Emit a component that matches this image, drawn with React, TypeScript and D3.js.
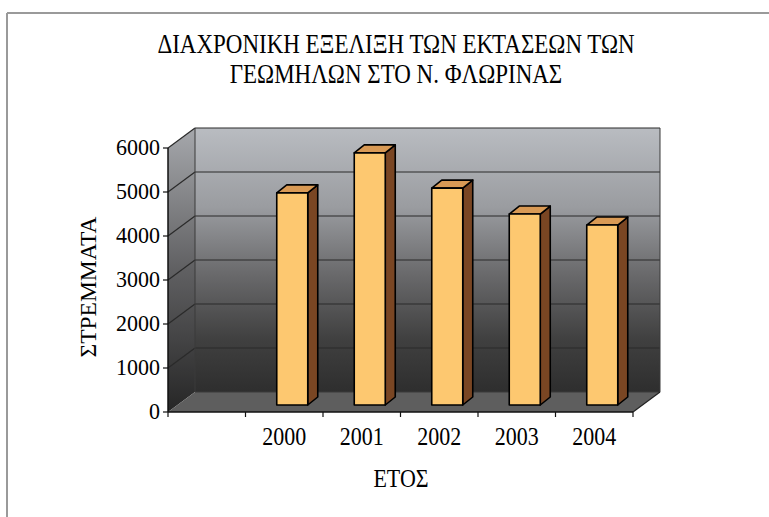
import React from "react";
import * as d3 from "d3";

const titleLines = ["ΔΙΑΧΡΟΝΙΚΗ ΕΞΕΛΙΞΗ ΤΩΝ ΕΚΤΑΣΕΩΝ ΤΩΝ", "ΓΕΩΜΗΛΩΝ ΣΤΟ Ν. ΦΛΩΡΙΝΑΣ"];
const slots = ["", "2000", "2001", "2002", "2003", "2004"];
const years = ["2000", "2001", "2002", "2003", "2004"];
const values = [4820, 5730, 4930, 4340, 4090];
const yTicks = [0, 1000, 2000, 3000, 4000, 5000, 6000];
const yLabel = "ΣΤΡΕΜΜΑΤΑ";
const xLabel = "ΕΤΟΣ";

const W = 769, H = 517;
const X0 = 168, X1 = 633, Y0 = 412, Y1 = 148;
const DX = 27, DY = -20; // wall depth
const BOX = 8, BOY = -7; // bar front offset into depth
const BDX = 10, BDY = -8; // bar depth
const BW = 31;
const FONT = "'Liberation Serif', 'Times New Roman', serif";

function SText({ x, y, k = 1.12, size, anchor = "middle", children }: any) {
  return (
    <text transform={`translate(${x},${y}) scale(1,${k})`} textAnchor={anchor} fontSize={size} fill="#000">
      {children}
    </text>
  );
}

export default function App() {
  const x = d3.scaleBand<string>().domain(slots).range([X0, X1]).padding(0);
  const y = d3.scaleLinear().domain([0, 6000]).range([Y0, Y1]);
  const line = d3.line<[number, number]>();
  const poly = (pts: [number, number][]) => line(pts)! + "Z";

  const backWall = poly([[X0 + DX, y(6000) + DY], [X1 + DX, y(6000) + DY], [X1 + DX, Y0 + DY], [X0 + DX, Y0 + DY]]);
  const sideWall = poly([[X0, y(6000)], [X0 + DX, y(6000) + DY], [X0 + DX, Y0 + DY], [X0, Y0]]);
  const floor = poly([[X0, Y0], [X1, Y0], [X1 + DX, Y0 + DY], [X0 + DX, Y0 + DY]]);

  return (
    <svg width={W} height={H} style={{ position: "absolute", left: 0, top: 0, background: "#fff" }} fontFamily={FONT}>
      <defs>
        <linearGradient id="backG" x1="0" y1="0" x2="0" y2="1">
          <stop offset="0" stopColor="#b9bcc1" />
          <stop offset="0.3" stopColor="#9a9ca0" />
          <stop offset="0.55" stopColor="#6a6a6c" />
          <stop offset="0.8" stopColor="#404040" />
          <stop offset="1" stopColor="#2e2e2e" />
        </linearGradient>
        <linearGradient id="sideG" x1="0" y1="0" x2="0" y2="1">
          <stop offset="0" stopColor="#a6a8ac" />
          <stop offset="0.5" stopColor="#606062" />
          <stop offset="1" stopColor="#262626" />
        </linearGradient>
      </defs>
      <rect x={0} y={0} width={W} height={H} fill="#fff" />
      {/* frame */}
      <line x1={7} y1={13} x2={W} y2={13} stroke="#9a9a9a" strokeWidth={2} />
      <line x1={7} y1={13} x2={7} y2={H} stroke="#9a9a9a" strokeWidth={2} />

      {/* title */}
      {titleLines.map((t, i) => (
        <SText key={i} x={396} y={53 + i * 30} size={23} k={1.15}>{t}</SText>
      ))}

      {/* walls */}
      <path d={backWall} fill="url(#backG)" />
      <path d={sideWall} fill="url(#sideG)" />
      <path d={floor} fill="#5e5e5e" />
      {yTicks.filter(v => v > 0).map(v => (
        <g key={v}>
          <line x1={X0 + DX} y1={y(v) + DY} x2={X1 + DX} y2={y(v) + DY} stroke="#2a2a2a" strokeWidth={1.2} />
          <line x1={X0} y1={y(v)} x2={X0 + DX} y2={y(v) + DY} stroke="#2a2a2a" strokeWidth={1.2} />
        </g>
      ))}
      <line x1={X0 + DX} y1={y(6000) + DY} x2={X0 + DX} y2={Y0 + DY} stroke="#3a3a3a" strokeWidth={1} />
      <line x1={X1 + DX} y1={y(6000) + DY} x2={X1 + DX} y2={Y0 + DY} stroke="#3a3a3a" strokeWidth={1} />
      <line x1={X0 + DX} y1={Y0 + DY} x2={X1 + DX} y2={Y0 + DY} stroke="#3a3a3a" strokeWidth={1} />
      <line x1={X1} y1={Y0} x2={X1 + DX} y2={Y0 + DY} stroke="#222" strokeWidth={1.2} />

      {/* bars */}
      {years.map((yr, i) => {
        const cx = x(yr)! + x.bandwidth() / 2 + BOX;
        const l = cx - BW / 2, r = cx + BW / 2;
        const b = Y0 + BOY;
        const t = y(values[i]) + BOY;
        return (
          <g key={yr} stroke="#000" strokeWidth={1.6} strokeLinejoin="round">
            <path d={poly([[r, t], [r + BDX, t + BDY], [r + BDX, b + BDY], [r, b]])} fill="#7a4623" />
            <path d={poly([[l, t], [l + BDX, t + BDY], [r + BDX, t + BDY], [r, t]])} fill="#d99a55" />
            <rect x={l} y={t} width={BW} height={b - t} fill="#fdc870" />
          </g>
        );
      })}

      {/* axes */}
      <line x1={X0} y1={Y1} x2={X0} y2={Y0} stroke="#111" strokeWidth={1.5} />
      <line x1={X0} y1={Y0} x2={X1} y2={Y0} stroke="#111" strokeWidth={1.5} />
      {yTicks.map(v => (
        <g key={v}>
          <line x1={X0 - 5} y1={y(v)} x2={X0} y2={y(v)} stroke="#111" strokeWidth={1.2} />
          <SText x={X0 - 8} y={y(v) + 7} size={22} k={1.05} anchor="end">{v}</SText>
        </g>
      ))}
      {slots.map((s, i) => (
        <line key={i} x1={x(s)!} y1={Y0} x2={x(s)!} y2={Y0 + 5} stroke="#111" strokeWidth={1.2} />
      ))}
      <line x1={X1} y1={Y0} x2={X1} y2={Y0 + 5} stroke="#111" strokeWidth={1.2} />
      {years.map(yr => (
        <SText key={yr} x={x(yr)! + x.bandwidth() / 2} y={445} size={22} k={1.12}>{yr}</SText>
      ))}
      <SText x={401} y={487} size={22} k={1.12}>{xLabel}</SText>
      <text transform={`translate(96,${287}) rotate(-90)`} textAnchor="middle" fontSize={23.5} fill="#000">{yLabel}</text>
    </svg>
  );
}
